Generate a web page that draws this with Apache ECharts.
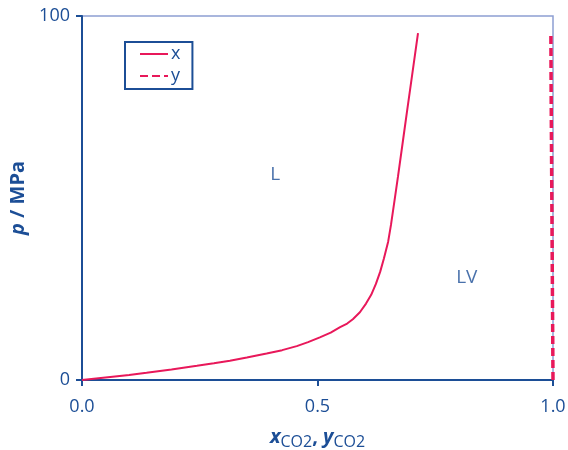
<!DOCTYPE html>
<html><head><meta charset="utf-8">
<script src="https://cdn.jsdelivr.net/npm/echarts@6/dist/echarts.min.js"></script>
<style>html,body{margin:0;padding:0;background:#fff}#c{width:568px;height:450px}</style>
</head><body><div id="c"></div>
<script>
const xTicks = [0, 0.5, 1.0];
const yTicks = [0, 100];
const liquidX = [0, 0.05, 0.1, 0.137, 0.19, 0.244, 0.28, 0.314, 0.35, 0.392, 0.425, 0.456, 0.48, 0.505, 0.528, 0.548, 0.563, 0.575, 0.590, 0.603, 0.614, 0.624, 0.633, 0.641, 0.650, 0.656, 0.6645, 0.671, 0.6815, 0.690, 0.7006, 0.7134];
const liquidP = [0, 0.7, 1.4, 2.0, 2.9, 3.9, 4.6, 5.3, 6.2, 7.3, 8.2, 9.3, 10.4, 11.7, 13.0, 14.5, 15.5, 16.7, 18.6, 21.0, 23.4, 26.4, 29.7, 33.4, 38.0, 42.6, 50.2, 56.0, 65.8, 73.7, 83.5, 95.3];
const vaporY = [1.0, 0.999, 0.998, 0.997, 0.996, 0.9955];
const vaporP = [0, 20, 40, 60, 80, 95.6];
const regionNames = ['L', 'LV'];
const regionX = [0.41, 0.817];
const regionP = [56.4, 28.0];

const blue = '#1c4e96';
const red = '#e8185a';
const font = '"Open Sans", sans-serif';
const chart = echarts.init(document.getElementById('c'));
chart.setOption({
  animation: false,
  grid: {left: 82, right: 15, top: 16, bottom: 70, show: true, borderColor: '#8d9fd2', borderWidth: 1.5,
         containLabel: false, outerBoundsMode: 'none'},
  legend: {
    left: 125, top: 42, orient: 'vertical',
    data: ['x', 'y'],
    borderColor: blue, borderWidth: 2, borderRadius: 0,
    padding: [3, 12, 4, 14], itemWidth: 28, itemHeight: 14, itemGap: 4,
    itemStyle: {opacity: 0},
    textStyle: {color: blue, fontSize: 18, fontFamily: font, padding: [0, 0, 0, -2]}
  },
  xAxis: {
    type: 'value', min: 0, max: 1, interval: 0.5,
    axisLine: {lineStyle: {color: blue, width: 2}},
    axisTick: {show: true, inside: false, length: 6, lineStyle: {color: blue, width: 2}},
    splitLine: {show: false},
    axisLabel: {color: blue, fontSize: 18, fontFamily: font, margin: 18,
      formatter: v => xTicks.includes(v) ? v.toFixed(1) : ''},
    name: '{bi|x}{sub|CO2}{n|, }{bi|y}{sub|CO2}',
    nameLocation: 'middle', nameGap: 45,
    nameTextStyle: {rich: {
      bi: {fontSize: 20, fontWeight: 'bold', fontStyle: 'italic', color: blue, fontFamily: font},
      n: {fontSize: 20, fontWeight: 'bold', color: blue, fontFamily: font},
      sub: {fontSize: 16, color: blue, fontFamily: font, padding: [9, 0, 0, 0]}
    }}
  },
  yAxis: {
    type: 'value', min: 0, max: 100, interval: 100,
    axisLine: {show: true, lineStyle: {color: blue, width: 2}},
    axisTick: {show: true, inside: false, length: 6, lineStyle: {color: blue, width: 2}},
    splitLine: {show: false},
    axisLabel: {color: blue, fontSize: 18, fontFamily: font, margin: 12,
      formatter: v => yTicks.includes(v) ? String(v) : ''},
    name: '{bi|p}{n| / MPa}',
    nameLocation: 'middle', nameGap: 52, nameRotate: 90,
    nameTextStyle: {rich: {
      bi: {fontSize: 20, fontWeight: 'bold', fontStyle: 'italic', color: blue, fontFamily: font},
      n: {fontSize: 20, fontWeight: 'bold', color: blue, fontFamily: font}
    }}
  },
  series: [
    {name: 'x', type: 'line', symbol: 'none', smooth: false,
     data: liquidX.map((v, i) => [v, liquidP[i]]),
     lineStyle: {color: red, width: 2}, itemStyle: {color: red}},
    {name: 'y', type: 'line', symbol: 'none',
     data: vaporY.map((v, i) => [v, vaporP[i]]),
     lineStyle: {color: red, width: 3.5, type: [8, 4]}, itemStyle: {color: red}},
    {name: 'regions', type: 'scatter', symbolSize: 0, silent: true,
     data: regionNames.map((n, i) => ({name: n, value: [regionX[i], regionP[i]]})),
     label: {show: true, formatter: p => p.name, color: blue, fontSize: 19, fontFamily: font, position: 'inside'}}
  ]
});
</script></body></html>
